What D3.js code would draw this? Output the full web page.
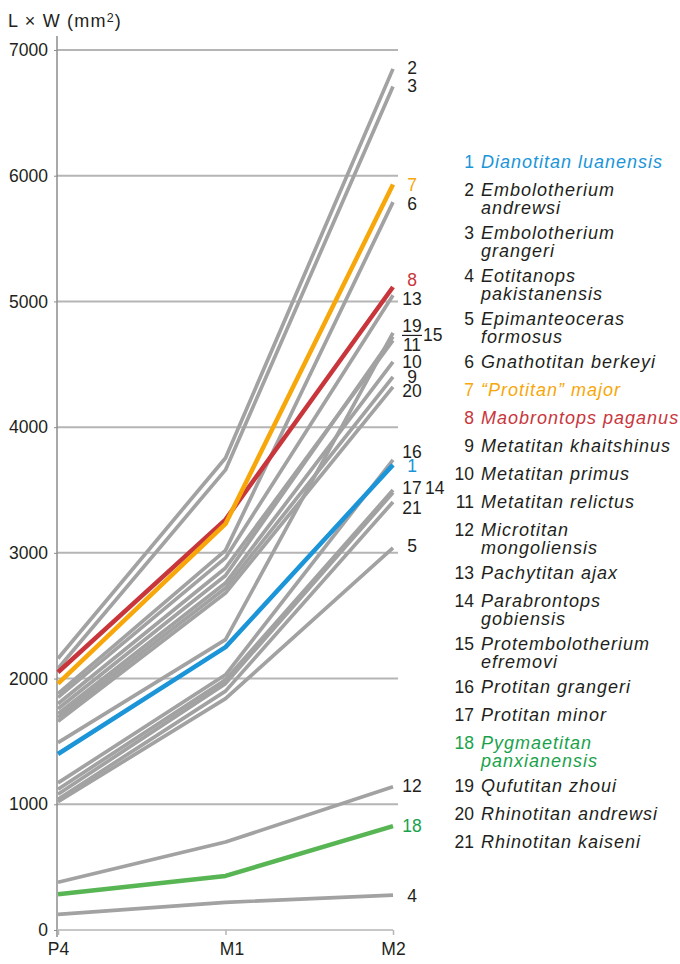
<!DOCTYPE html>
<html>
<head>
<meta charset="utf-8">
<script src="https://cdn.jsdelivr.net/npm/d3@7"></script>
<style>
  html, body { margin: 0; padding: 0; background: #fff; }
  svg text { font-family: "Liberation Sans", Arial, sans-serif; fill: #231f20; }
</style>
</head>
<body>
<svg id="chart" width="680" height="964"></svg>
<script>
// ---------- DATA ----------
const stages = ["P4", "M1", "M2"];
const ids = [1,2,3,4,5,6,7,8,9,10,11,12,13,14,15,16,17,18,19,20,21];
const names = [
  "Dianotitan luanensis",
  "Embolotherium\nandrewsi",
  "Embolotherium\ngrangeri",
  "Eotitanops\npakistanensis",
  "Epimanteoceras\nformosus",
  "Gnathotitan berkeyi",
  "\u201cProtitan\u201d major",
  "Maobrontops paganus",
  "Metatitan khaitshinus",
  "Metatitan primus",
  "Metatitan relictus",
  "Microtitan\nmongoliensis",
  "Pachytitan ajax",
  "Parabrontops\ngobiensis",
  "Protembolotherium\nefremovi",
  "Protitan grangeri",
  "Protitan minor",
  "Pygmaetitan\npanxianensis",
  "Qufutitan zhoui",
  "Rhinotitan andrewsi",
  "Rhinotitan kaiseni"
];
// L x W (mm2) per tooth position, by species id order
const p4Values = [1400, 2160, 2080, 125, 1020, 1880, 1960, 2050, 1690, 1720, 1800, 380, 1850, 1080, 1760, 1170, 1120, 285, 1490, 1660, 1040];
const m1Values = [2250, 3755, 3660, 220, 1840, 3020, 3230, 3265, 2720, 2760, 2880, 700, 2960, 1960, 2820, 2030, 1990, 430, 2310, 2680, 1900];
const m2Values = [3700, 6850, 6710, 278, 3040, 5790, 5930, 5115, 4400, 4520, 4690, 1140, 5050, 3480, 4720, 3740, 3500, 827, 4750, 4320, 3405];
// where each end label sits (data units)
const labelValues = [3691, 6858, 6714, 270, 3055, 5776, 5927, 5171, 4399, 4519, 4654, 1146, 5020, 3516, 4733, 3803, 3516, 827, 4805, 4288, 3357];
const yTicks = [0, 1000, 2000, 3000, 4000, 5000, 6000, 7000];

// ---------- STYLE ----------
const highlight = { 1: "#1b95d8", 7: "#f7a70a", 8: "#c8363c", 18: "#58b553" };
const textHighlight = { 1: "#1b95d8", 7: "#f7a70a", 8: "#c8363c", 18: "#1aa24b" };
const grey = "#a2a2a3";

const svg = d3.select("#chart");
const x = d3.scalePoint().domain(stages).range([58, 393]);
const y = d3.scaleLinear().domain([0, 7000]).range([930, 50]);

// gridlines
svg.append("g").selectAll("line").data(yTicks.filter(t => t > 0)).join("line")
  .attr("x1", 57).attr("x2", 398)
  .attr("y1", d => y(d)).attr("y2", d => y(d))
  .attr("stroke", "#b5b5b6").attr("stroke-width", 2);

// y axis
const yAxis = svg.append("g").attr("transform", "translate(57,0)")
  .call(d3.axisLeft(y).tickValues(yTicks).tickSize(3).tickPadding(6).tickFormat(d3.format("d")));
yAxis.select(".domain").attr("d", `M0,${36}V${937}`).attr("stroke", "#8d8d8e").attr("stroke-width", 1.5);
yAxis.selectAll(".tick line").attr("stroke", "#8d8d8e");
yAxis.selectAll(".tick text").attr("font-size", 17.5).style("fill", "#231f20");

// x axis
const xAxis = svg.append("g").attr("transform", "translate(0,930)")
  .call(d3.axisBottom(x).tickSize(5).tickPadding(8));
xAxis.select(".domain").attr("d", `M57,0H393`).attr("stroke", "#b5b5b6").attr("stroke-width", 1.5);
xAxis.selectAll(".tick line").attr("stroke", "#b5b5b6").attr("stroke-width", 1.5);
xAxis.selectAll(".tick text").attr("font-size", 17.5).style("fill", "#231f20")
  .attr("dx", d => d === "M1" ? 6 : 0);

// title
const title = svg.append("text").attr("x", 8).attr("y", 27).attr("font-size", 18)
  .attr("letter-spacing", 1.2);
title.append("tspan").text("L \u00d7 W (mm");
title.append("tspan").attr("font-size", 12.5).attr("dy", -5).text("2");
title.append("tspan").attr("dy", 5).text(")");

// series
const series = ids.map((id, i) => ({
  id, name: names[i],
  values: [p4Values[i], m1Values[i], m2Values[i]],
  label: labelValues[i]
}));
const line = d3.line().x((d, i) => x(stages[i])).y(d => y(d));

const order = series.filter(s => !highlight[s.id])
  .concat(series.filter(s => s.id === 8), series.filter(s => s.id === 7),
          series.filter(s => s.id === 1), series.filter(s => s.id === 18));

svg.append("g").selectAll("path").data(order).join("path")
  .attr("d", s => line(s.values))
  .attr("fill", "none")
  .attr("stroke", s => highlight[s.id] || grey)
  .attr("stroke-width", s => highlight[s.id] ? 4.5 : 3.7)
  .attr("stroke-linejoin", "round");

// end labels
const lblX = x("M2") + 19;
const special = { 15: 20, 14: 22 };
const endG = svg.append("g");
series.forEach(s => {
  endG.append("text")
    .attr("x", lblX + (special[s.id] || 0))
    .attr("y", y(s.label))
    .attr("dy", "0.36em")
    .attr("text-anchor", special[s.id] ? "start" : "middle")
    .attr("font-size", 17.5)
    .style("fill", textHighlight[s.id] || "#231f20")
    .attr("dx", special[s.id] ? -9 : 0)
    .text(s.id);
});
// fraction bar between 19 and 11
endG.append("line")
  .attr("x1", lblX - 10).attr("x2", lblX + 10)
  .attr("y1", (y(labelValues[18]) + y(labelValues[10])) / 2)
  .attr("y2", (y(labelValues[18]) + y(labelValues[10])) / 2)
  .attr("stroke", "#231f20").attr("stroke-width", 1.2);

// legend
const lg = svg.append("g");
let ly = 162;
series.forEach(s => {
  const lines = s.name.split("\n");
  const col = textHighlight[s.id] || "#231f20";
  lg.append("text").attr("x", 474).attr("y", ly).attr("dy", "0.36em")
    .attr("text-anchor", "end").attr("font-size", 17.5).style("fill", col).text(s.id);
  lines.forEach((t, k) => {
    lg.append("text").attr("x", 481).attr("y", ly + k * 17.5).attr("dy", "0.36em")
      .attr("font-size", 18).attr("letter-spacing", 1).attr("font-style", "italic")
      .style("fill", col).text(t);
  });
  ly += lines.length > 1 ? 43 : 28;
});
</script>
</body>
</html>
